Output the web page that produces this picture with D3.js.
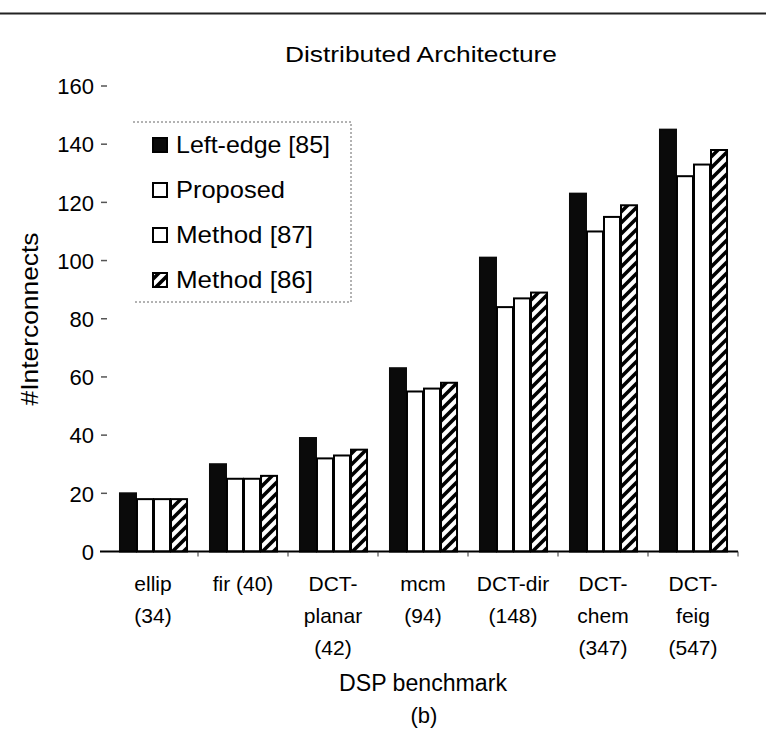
<!DOCTYPE html>
<html>
<head>
<meta charset="utf-8">
<script src="https://cdn.jsdelivr.net/npm/d3@7"></script>
<style>
  html, body { margin: 0; padding: 0; background: #fff; }
  svg text { font-family: "Liberation Sans", Arial, Helvetica, sans-serif; fill: #000; }
</style>
</head>
<body>
<svg id="chart" width="766" height="734"></svg>
<script>
// Benchmarks (with operation counts) and interconnect counts per method
const categories = ["ellip (34)", "fir (40)", "DCT-planar (42)", "mcm (94)", "DCT-dir (148)", "DCT-chem (347)", "DCT-feig (547)"];
const categoryLines = [
  ["ellip", "(34)"],
  ["fir (40)"],
  ["DCT-", "planar", "(42)"],
  ["mcm", "(94)"],
  ["DCT-dir", "(148)"],
  ["DCT-", "chem", "(347)"],
  ["DCT-", "feig", "(547)"]
];
const seriesNames = ["Left-edge [85]", "Proposed", "Method [87]", "Method [86]"];
const leftEdge  = [20, 30, 39, 63, 101, 123, 145];
const proposed  = [18, 25, 32, 55, 84, 110, 129];
const method87  = [18, 25, 33, 56, 87, 115, 133];
const method86  = [18, 26, 35, 58, 89, 119, 138];
const seriesValues = [leftEdge, proposed, method87, method86];
const yTicks = [0, 20, 40, 60, 80, 100, 120, 140, 160];

const svg = d3.select("#chart");

// hatch fill for the last series
const defs = svg.append("defs");
const pat = defs.append("pattern")
  .attr("id", "hatch")
  .attr("patternUnits", "userSpaceOnUse")
  .attr("width", 11).attr("height", 11);
pat.append("rect").attr("width", 11).attr("height", 11).attr("fill", "#fff");
pat.append("path")
  .attr("d", "M-3,3 L3,-3 M0,11 L11,0 M8,14 L14,8")
  .attr("stroke", "#000").attr("stroke-width", 3.6);

const styles = [
  { fill: "#0a0a0a", stroke: "#0a0a0a" },
  { fill: "#fff", stroke: "#000" },
  { fill: "#fff", stroke: "#000" },
  { fill: "url(#hatch)", stroke: "#000" }
];

// rule across the top of the figure
svg.append("line")
  .attr("x1", 0).attr("x2", 766).attr("y1", 13.5).attr("y2", 13.5)
  .attr("stroke", "#222").attr("stroke-width", 2);

const x0 = d3.scaleBand()
  .domain(categories)
  .range([108, 738])
  .paddingInner(0.244)
  .paddingOuter(0.122);

const x1 = d3.scaleBand()
  .domain(d3.range(seriesNames.length))
  .range([0, x0.bandwidth()])
  .padding(0);

const y = d3.scaleLinear().domain([0, 160]).range([551.5, 86]);

// title
svg.append("text")
  .attr("x", 421).attr("y", 62)
  .attr("text-anchor", "middle")
  .attr("font-size", 22)
  .attr("textLength", 272).attr("lengthAdjust", "spacingAndGlyphs")
  .text("Distributed Architecture");

// y axis: labels and short tick dashes, no axis line
const yAxis = d3.axisLeft(y).tickValues(yTicks).tickSize(0).tickPadding(0);
const yg = svg.append("g").attr("transform", "translate(94,0)").call(yAxis);
yg.select(".domain").remove();
yg.selectAll("text")
  .attr("font-size", 22)
  .attr("font-family", "Liberation Sans, Arial, sans-serif")
  .attr("fill", "#000")
  .attr("dy", "0.35em");
svg.append("g").selectAll("line")
  .data(yTicks.filter(d => d > 0))
  .join("line")
  .attr("x1", 101).attr("x2", 107)
  .attr("y1", d => y(d)).attr("y2", d => y(d))
  .attr("stroke", "#555").attr("stroke-width", 1.5);

// y axis title
svg.append("text")
  .attr("transform", "translate(38,319) rotate(-90)")
  .attr("text-anchor", "middle")
  .attr("font-size", 23)
  .attr("textLength", 173).attr("lengthAdjust", "spacingAndGlyphs")
  .text("#Interconnects");

// bars
const groups = svg.append("g").selectAll("g")
  .data(categories)
  .join("g")
  .attr("transform", d => `translate(${x0(d)},0)`);

groups.selectAll("rect")
  .data((d, i) => seriesValues.map((vals, s) => ({ s, v: vals[i] })))
  .join("rect")
  .attr("x", d => x1(d.s) + 1)
  .attr("width", x1.bandwidth() - 1)
  .attr("y", d => y(d.v))
  .attr("height", d => y(0) - y(d.v))
  .attr("fill", d => styles[d.s].fill)
  .attr("stroke", d => styles[d.s].stroke)
  .attr("stroke-width", 2);

// x baseline and boundary ticks
svg.append("line")
  .attr("x1", 100).attr("x2", 738)
  .attr("y1", y(0)).attr("y2", y(0))
  .attr("stroke", "#000").attr("stroke-width", 2);
const bounds = categories.map(c => x0(c) + x0.bandwidth() + x0.step() * x0.paddingInner() / 2);
svg.append("g").selectAll("line")
  .data(bounds)
  .join("line")
  .attr("x1", d => d).attr("x2", d => d)
  .attr("y1", y(0)).attr("y2", y(0) + 5)
  .attr("stroke", "#333").attr("stroke-width", 1);

// category labels
const lineBase = [591, 623, 655];
svg.append("g").selectAll("text")
  .data(categories)
  .join("text")
  .attr("text-anchor", "middle")
  .attr("font-size", 21)
  .each(function (d, i) {
    const cx = x0(d) + x0.bandwidth() / 2;
    d3.select(this).selectAll("tspan")
      .data(categoryLines[i])
      .join("tspan")
      .attr("x", cx)
      .attr("y", (t, k) => lineBase[k])
      .text(t => t);
  });

// x axis title and panel tag
svg.append("text")
  .attr("x", 423).attr("y", 691)
  .attr("text-anchor", "middle")
  .attr("font-size", 23)
  .attr("textLength", 168).attr("lengthAdjust", "spacingAndGlyphs")
  .text("DSP benchmark");
svg.append("text")
  .attr("x", 424).attr("y", 723)
  .attr("text-anchor", "middle")
  .attr("font-size", 22)
  .text("(b)");

// legend frame (top, right and bottom edges)
svg.append("path")
  .attr("d", "M133,122 H351 V302 H133")
  .attr("fill", "none")
  .attr("stroke", "#666")
  .attr("stroke-width", 1)
  .attr("stroke-dasharray", "2,2");

const legendY = [145, 190, 235, 280];
const legendLen = [154, 109, 137, 137];
const leg = svg.append("g").selectAll("g")
  .data(seriesNames)
  .join("g")
  .attr("transform", (d, i) => `translate(152,${legendY[i]})`);
leg.append("rect")
  .attr("x", 1).attr("y", -7)
  .attr("width", 14).attr("height", 14)
  .attr("fill", (d, i) => styles[i].fill)
  .attr("stroke", "#000").attr("stroke-width", 2);
leg.append("text")
  .attr("x", 24).attr("y", 8)
  .attr("font-size", 24)
  .attr("textLength", (d, i) => legendLen[i])
  .attr("lengthAdjust", "spacingAndGlyphs")
  .text(d => d);
</script>
</body>
</html>
